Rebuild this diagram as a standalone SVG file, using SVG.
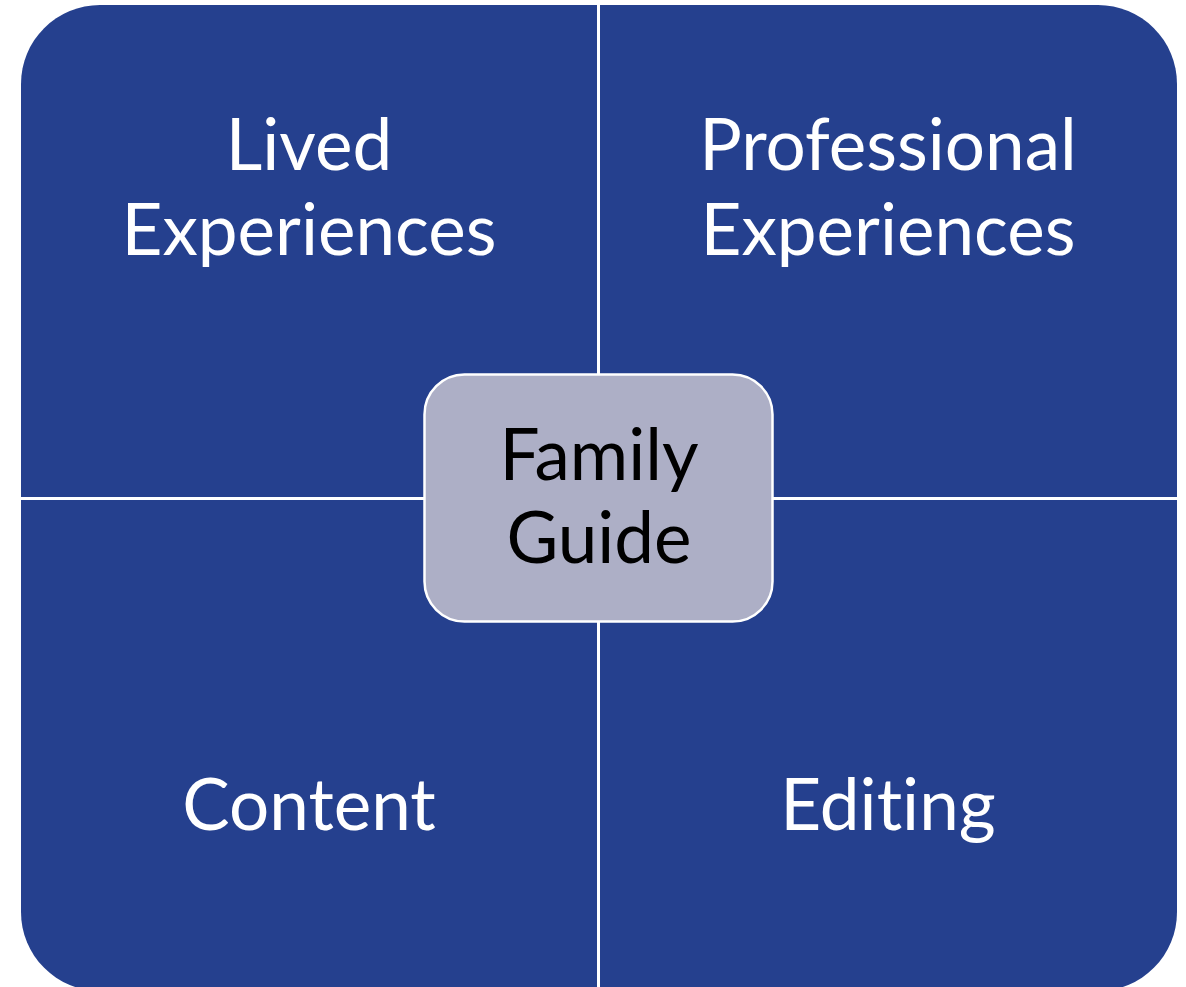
<svg xmlns="http://www.w3.org/2000/svg" width="1186" height="987" viewBox="0 0 1186 987">
  <style>
    .quad { fill: #25408E; }
    .label { font-family: Lato, "Liberation Sans", sans-serif; font-size: 71px; fill: #FFFFFF; text-anchor: middle; font-variant-ligatures: none; }
    .hub { fill: #ADAFC6; stroke: #FFFFFF; stroke-width: 2.5; }
    .hub-label { font-family: Lato, "Liberation Sans", sans-serif; font-size: 71px; fill: #000000; text-anchor: middle; font-variant-ligatures: none; }
  </style>
  <rect width="1186" height="987" fill="#FFFFFF"/>

  <!-- four quadrants, each rounded on its outer corner -->
  <g id="lived-experiences">
    <path class="quad" d="M21,84 A79,79 0 0 1 100,5 L597,5 L597,497 L21,497 Z"/>
    <text class="label" x="309" y="170">Lived</text>
    <text class="label" x="309" y="255">Experiences</text>
  </g>
  <g id="professional-experiences">
    <path class="quad" d="M600,5 L1098,5 A79,79 0 0 1 1177,84 L1177,497 L600,497 Z"/>
    <text class="label" x="888" y="170">Professional</text>
    <text class="label" x="888" y="255">Experiences</text>
  </g>
  <g id="content">
    <path class="quad" d="M21,500 L597,500 L597,991 L100,991 A79,79 0 0 1 21,912 Z"/>
    <text class="label" x="309" y="830">Content</text>
  </g>
  <g id="editing">
    <path class="quad" d="M600,500 L1177,500 L1177,912 A79,79 0 0 1 1098,991 L600,991 Z"/>
    <text class="label" x="888" y="830">Editing</text>
  </g>

  <!-- central hub -->
  <g id="family-guide">
    <rect class="hub" x="424.5" y="374.5" width="348" height="247" rx="40" ry="40"/>
    <text class="hub-label" x="599" y="480">Family</text>
    <text class="hub-label" x="599" y="563">Guide</text>
  </g>

  <g id="connectors"></g>
</svg>
